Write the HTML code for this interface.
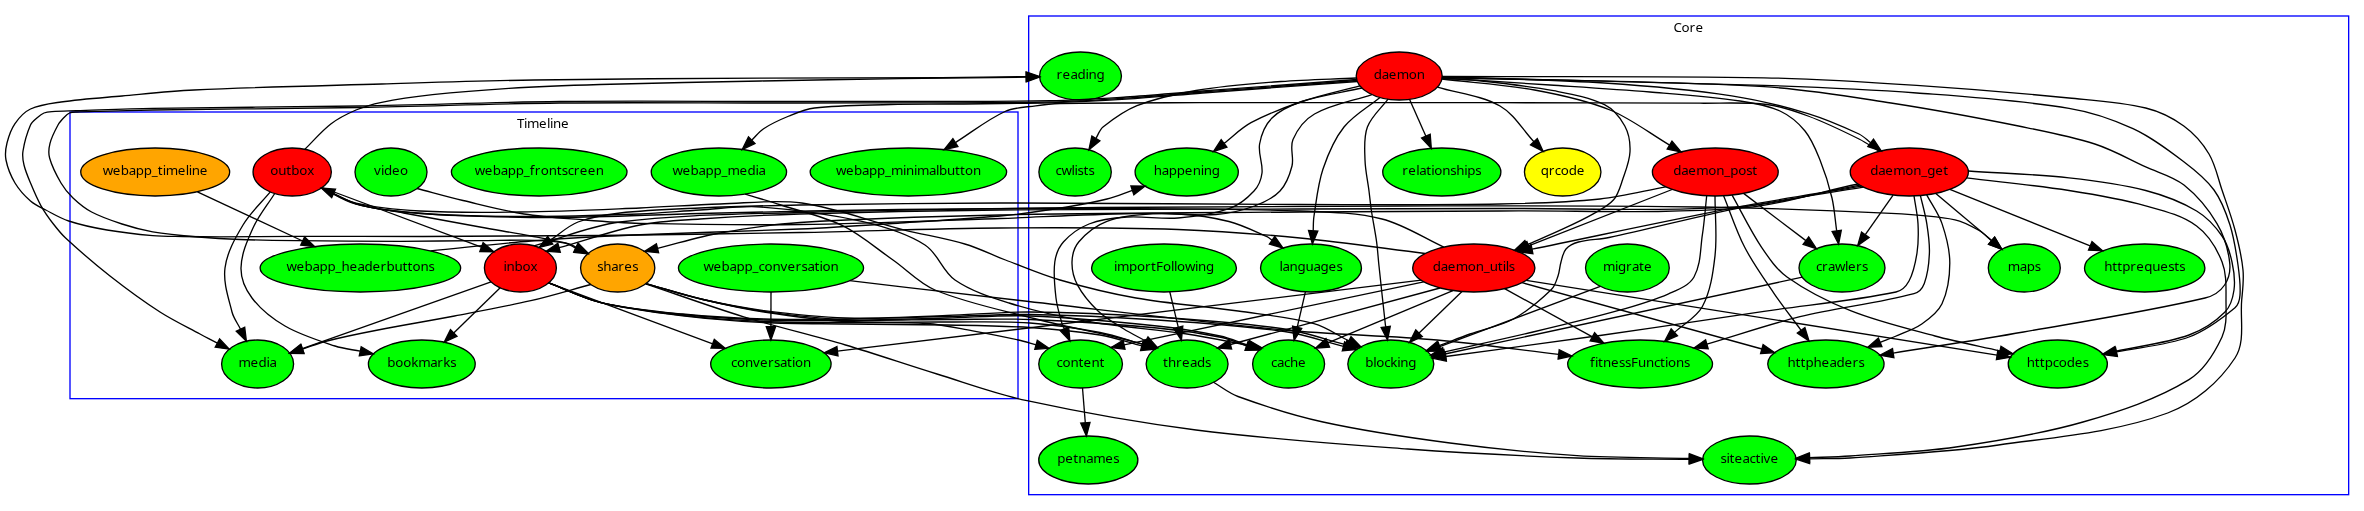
<!DOCTYPE html>
<html><head><meta charset="utf-8"><title>EpicyonGroups</title>
<style>
html,body{margin:0;padding:0;background:#fff}
svg{display:block;will-change:transform}
.e{fill:none;stroke:#000;stroke-width:1.33}
.a{fill:#000;stroke:#000;stroke-width:1.33;stroke-linejoin:miter}
ellipse{stroke:#000;stroke-width:1.33}
rect.c{fill:none;stroke:#0000ff;stroke-width:1.33}
text{font-family:"Noto Sans","Liberation Sans",sans-serif;font-size:13.33px;fill:#000}
</style></head>
<body>
<svg width="2364" height="511" viewBox="0 0 2364 511">
<rect width="2364" height="511" fill="#fff"/>
<rect class="c" x="70.00" y="112.00" width="948.00" height="286.67"/>
<text x="517.0 524.0 527.0 539.0 547.0 550.0 553.0 561.0" y="127.7">Timeline</text>
<rect class="c" x="1028.67" y="16.00" width="1320.00" height="478.67"/>
<text x="1673.4 1681.4 1689.4 1695.4" y="31.7">Core</text>
<g>
<ellipse cx="1080.5" cy="76.0" rx="40.96" ry="24" fill="#00ff00"/>
<ellipse cx="1399.2" cy="76.0" rx="43.00" ry="24" fill="#ff0000"/>
<ellipse cx="155.2" cy="172.0" rx="74.47" ry="24" fill="#ffa500"/>
<ellipse cx="292.2" cy="172.0" rx="39.16" ry="24" fill="#ff0000"/>
<ellipse cx="391.0" cy="172.0" rx="36.00" ry="24" fill="#00ff00"/>
<ellipse cx="539.2" cy="172.0" rx="87.81" ry="24" fill="#00ff00"/>
<ellipse cx="718.9" cy="172.0" rx="67.67" ry="24" fill="#00ff00"/>
<ellipse cx="908.4" cy="172.0" rx="98.23" ry="24" fill="#00ff00"/>
<ellipse cx="1075.1" cy="172.0" rx="36.21" ry="24" fill="#00ff00"/>
<ellipse cx="1186.7" cy="172.0" rx="51.60" ry="24" fill="#00ff00"/>
<ellipse cx="1441.8" cy="172.0" rx="59.07" ry="24" fill="#00ff00"/>
<ellipse cx="1562.7" cy="172.0" rx="38.25" ry="24" fill="#ffff00"/>
<ellipse cx="1715.3" cy="172.0" rx="62.92" ry="24" fill="#ff0000"/>
<ellipse cx="1909.3" cy="172.0" rx="59.07" ry="24" fill="#ff0000"/>
<ellipse cx="360.4" cy="268.0" rx="100.27" ry="24" fill="#00ff00"/>
<ellipse cx="520.4" cy="268.0" rx="36.00" ry="24" fill="#ff0000"/>
<ellipse cx="617.7" cy="268.0" rx="37.12" ry="24" fill="#ffa500"/>
<ellipse cx="771.0" cy="268.0" rx="92.56" ry="24" fill="#00ff00"/>
<ellipse cx="1164.0" cy="268.0" rx="72.41" ry="24" fill="#00ff00"/>
<ellipse cx="1311.0" cy="268.0" rx="50.47" ry="24" fill="#00ff00"/>
<ellipse cx="1473.8" cy="268.0" rx="61.11" ry="24" fill="#ff0000"/>
<ellipse cx="1627.4" cy="268.0" rx="41.87" ry="24" fill="#00ff00"/>
<ellipse cx="1842.0" cy="268.0" rx="43.00" ry="24" fill="#00ff00"/>
<ellipse cx="2024.3" cy="268.0" rx="36.00" ry="24" fill="#00ff00"/>
<ellipse cx="2144.7" cy="268.0" rx="60.20" ry="24" fill="#00ff00"/>
<ellipse cx="257.6" cy="364.0" rx="36.00" ry="24" fill="#00ff00"/>
<ellipse cx="421.8" cy="364.0" rx="53.41" ry="24" fill="#00ff00"/>
<ellipse cx="770.9" cy="364.0" rx="60.20" ry="24" fill="#00ff00"/>
<ellipse cx="1080.6" cy="364.0" rx="41.87" ry="24" fill="#00ff00"/>
<ellipse cx="1187.1" cy="364.0" rx="40.96" ry="24" fill="#00ff00"/>
<ellipse cx="1288.6" cy="364.0" rx="36.00" ry="24" fill="#00ff00"/>
<ellipse cx="1390.8" cy="364.0" rx="43.00" ry="24" fill="#00ff00"/>
<ellipse cx="1640.1" cy="364.0" rx="72.41" ry="24" fill="#00ff00"/>
<ellipse cx="1825.9" cy="364.0" rx="58.16" ry="24" fill="#00ff00"/>
<ellipse cx="2057.8" cy="364.0" rx="49.56" ry="24" fill="#00ff00"/>
<ellipse cx="1088.3" cy="460.0" rx="49.56" ry="24" fill="#00ff00"/>
<ellipse cx="1749.4" cy="460.0" rx="46.85" ry="24" fill="#00ff00"/>
</g>
<g class="t">
<text x="1056.5 1062.5 1070.5 1077.5 1085.5 1088.5 1096.5" y="79.0">reading</text>
<text x="1373.7 1381.7 1388.7 1396.7 1408.7 1416.7" y="79.0">daemon</text>
<text x="102.7 112.7 120.7 128.7 135.7 143.7 151.7 157.7 162.7 165.7 177.7 185.7 188.7 191.7 199.7" y="175.0">webapp_timeline</text>
<text x="270.2 278.2 286.2 291.2 299.2 307.2" y="175.0">outbox</text>
<text x="374.0 381.0 384.0 392.0 400.0" y="175.0">video</text>
<text x="474.7 484.7 492.7 500.7 507.7 515.7 523.7 529.7 534.7 540.7 548.7 556.7 561.7 567.7 573.7 579.7 587.7 595.7" y="175.0">webapp_frontscreen</text>
<text x="672.4 682.4 690.4 698.4 705.4 713.4 721.4 727.4 739.4 747.4 755.4 758.4" y="175.0">webapp_media</text>
<text x="835.9 845.9 853.9 861.9 868.9 876.9 884.9 890.9 902.9 905.9 913.9 916.9 928.9 935.9 938.9 946.9 954.9 959.9 964.9 972.9" y="175.0">webapp_minimalbutton</text>
<text x="1055.6 1061.6 1071.6 1074.6 1077.6 1083.6 1088.6" y="175.0">cwlists</text>
<text x="1153.7 1161.7 1168.7 1176.7 1184.7 1192.7 1200.7 1203.7 1211.7" y="175.0">happening</text>
<text x="1402.3 1408.3 1416.3 1419.3 1426.3 1431.3 1434.3 1442.3 1450.3 1456.3 1464.3 1467.3 1475.3" y="175.0">relationships</text>
<text x="1540.7 1548.7 1554.7 1560.7 1568.7 1576.7" y="175.0">qrcode</text>
<text x="1673.3 1681.3 1688.3 1696.3 1708.3 1716.3 1724.3 1730.3 1738.3 1746.3 1752.3" y="175.0">daemon_post</text>
<text x="1870.3 1878.3 1885.3 1893.3 1905.3 1913.3 1921.3 1927.3 1935.3 1943.3" y="175.0">daemon_get</text>
<text x="286.4 296.4 304.4 312.4 319.4 327.4 335.4 341.4 349.4 357.4 364.4 372.4 380.4 386.4 394.4 402.4 407.4 412.4 420.4 428.4" y="271.0">webapp_headerbuttons</text>
<text x="503.4 506.4 514.4 522.4 530.4" y="271.0">inbox</text>
<text x="597.2 603.2 611.2 618.2 624.2 632.2" y="271.0">shares</text>
<text x="703.5 713.5 721.5 729.5 736.5 744.5 752.5 758.5 764.5 772.5 780.5 787.5 795.5 801.5 807.5 814.5 819.5 822.5 830.5" y="271.0">webapp_conversation</text>
<text x="1114.0 1117.0 1129.0 1137.0 1145.0 1151.0 1156.0 1163.0 1171.0 1174.0 1177.0 1185.0 1195.0 1198.0 1206.0" y="271.0">importFollowing</text>
<text x="1279.5 1282.5 1289.5 1297.5 1305.5 1313.5 1320.5 1328.5 1336.5" y="271.0">languages</text>
<text x="1432.8 1440.8 1447.8 1455.8 1467.8 1475.8 1483.8 1489.8 1497.8 1502.8 1505.8 1508.8" y="271.0">daemon_utils</text>
<text x="1602.9 1614.9 1617.9 1625.9 1631.9 1638.9 1643.9" y="271.0">migrate</text>
<text x="1816.0 1822.0 1828.0 1835.0 1845.0 1848.0 1856.0 1862.0" y="271.0">crawlers</text>
<text x="2007.8 2019.8 2026.8 2034.8" y="271.0">maps</text>
<text x="2104.2 2112.2 2117.2 2122.2 2130.2 2136.2 2144.2 2152.2 2160.2 2168.2 2174.2 2179.2" y="271.0">httprequests</text>
<text x="238.6 250.6 258.6 266.6 269.6" y="367.0">media</text>
<text x="387.3 395.3 403.3 411.3 418.3 430.3 437.3 443.3 450.3" y="367.0">bookmarks</text>
<text x="730.9 736.9 744.9 752.9 759.9 767.9 773.9 779.9 786.9 791.9 794.9 802.9" y="367.0">conversation</text>
<text x="1056.6 1062.6 1070.6 1078.6 1083.6 1091.6 1099.6" y="367.0">content</text>
<text x="1163.1 1168.1 1176.1 1182.1 1190.1 1197.1 1205.1" y="367.0">threads</text>
<text x="1271.1 1277.1 1284.1 1290.1 1298.1" y="367.0">cache</text>
<text x="1365.3 1373.3 1376.3 1384.3 1390.3 1397.3 1400.3 1408.3" y="367.0">blocking</text>
<text x="1590.1 1595.1 1598.1 1603.1 1611.1 1619.1 1625.1 1631.1 1638.1 1646.1 1654.1 1660.1 1665.1 1668.1 1676.1 1684.1" y="367.0">fitnessFunctions</text>
<text x="1787.4 1795.4 1800.4 1805.4 1813.4 1821.4 1829.4 1836.4 1844.4 1852.4 1858.4" y="367.0">httpheaders</text>
<text x="2026.8 2034.8 2039.8 2044.8 2052.8 2058.8 2066.8 2074.8 2082.8" y="367.0">httpcodes</text>
<text x="1057.3 1065.3 1073.3 1078.3 1086.3 1093.3 1105.3 1113.3" y="463.0">petnames</text>
<text x="1720.4 1726.4 1729.4 1734.4 1742.4 1749.4 1755.4 1760.4 1763.4 1770.4" y="463.0">siteactive</text>
</g>
<g>
<path class="e" d="M197.4,191.8 L302.7,241.0"/>
<path class="a" d="M300.7,245.2 L314.7,246.6 L304.6,236.8 Z"/>
<path class="e" d="M322.1,187.5 L481.4,247.1"/>
<path class="a" d="M479.8,251.5 L493.9,251.7 L483.1,242.7 Z"/>
<path class="e" d="M321.7,187.8C333.1,193.1 343.9,200.1 356.0,203.8C371.4,208.6 387.7,210.0 403.6,213.0C429.0,217.8 454.5,222.4 480.0,227.0C496.9,230.1 513.9,232.8 530.8,236.0C543.6,238.4 556.4,240.6 569.0,243.8C571.6,244.5 573.9,246.2 576.3,247.4"/>
<path class="a" d="M574.3,251.6 L588.3,253.4 L578.4,243.3 Z"/>
<path class="e" d="M270.3,191.9C261.2,202.9 250.3,212.7 243.0,225.0C235.0,238.3 226.9,252.6 225.0,268.0C223.1,282.7 228.4,297.6 232.0,312.0C233.6,318.2 237.7,323.5 240.5,329.2"/>
<path class="a" d="M236.3,331.3 L246.4,341.2 L244.7,327.2 Z"/>
<path class="e" d="M274.7,193.5C267.5,205.0 258.6,215.6 253.0,228.0C247.3,240.7 241.2,254.1 241.0,268.0C240.8,278.6 245.6,289.5 252.0,298.0C260.7,309.5 272.5,318.8 285.0,326.0C300.5,335.0 318.0,340.3 335.0,346.0C343.1,348.7 351.8,349.5 360.2,351.2"/>
<path class="a" d="M359.3,355.8 L373.3,353.9 L361.2,346.7 Z"/>
<path class="e" d="M491.1,281.9 L302.3,348.7"/>
<path class="a" d="M300.7,344.3 L289.7,353.1 L303.8,353.1 Z"/>
<path class="e" d="M590.8,284.5C570.8,289.9 551.0,296.0 530.8,300.7C505.5,306.5 480.0,311.1 454.5,316.0C429.0,320.9 403.4,325.0 378.0,330.0C360.9,333.3 343.9,336.7 327.0,341.0C318.7,343.1 310.7,346.4 302.5,349.1"/>
<path class="a" d="M301.0,344.7 L289.8,353.3 L304.0,353.6 Z"/>
<path class="e" d="M500.2,287.8 L453.7,332.9"/>
<path class="a" d="M450.5,329.6 L444.2,342.2 L457.0,336.3 Z"/>
<path class="e" d="M548.7,282.8 L712.7,343.8"/>
<path class="a" d="M711.0,348.1 L725.2,348.4 L714.3,339.4 Z"/>
<path class="e" d="M771.0,292.0 L770.9,326.7"/>
<path class="a" d="M766.3,326.7 L770.9,340.0 L775.6,326.7 Z"/>
<path class="e" d="M849.6,280.7C906.4,287.3 963.2,294.0 1020.0,300.5C1108.0,310.5 1195.8,321.6 1284.0,330.0C1334.9,334.8 1386.1,335.5 1437.0,340.0C1477.7,343.6 1518.1,349.6 1558.7,354.4"/>
<path class="a" d="M1558.1,359.0 L1571.9,355.9 L1559.2,349.7 Z"/>
<path class="e" d="M645.6,283.8C678.3,294.8 710.7,306.7 743.7,316.8C777.4,327.1 811.7,335.0 845.5,345.0C876.2,354.1 906.4,364.6 937.0,374.0C966.9,383.2 996.4,394.1 1027.0,400.7C1082.9,412.8 1139.3,422.8 1196.0,430.0C1266.3,438.9 1337.0,443.8 1407.6,449.0C1464.0,453.1 1520.5,455.9 1577.0,458.0C1614.4,459.4 1651.8,458.9 1689.2,459.3"/>
<path class="a" d="M1689.2,464.0 L1702.6,459.5 L1689.3,454.6 Z"/>
<path class="e" d="M1213.5,382.3C1221.7,387.1 1229.1,393.3 1238.0,396.5C1265.8,406.6 1294.1,415.7 1323.0,422.0C1364.9,431.2 1407.5,437.4 1450.0,443.0C1492.2,448.6 1534.5,452.9 1577.0,455.7C1614.4,458.1 1651.8,457.6 1689.3,458.5"/>
<path class="a" d="M1689.2,463.2 L1702.6,458.8 L1689.4,453.8 Z"/>
<path class="e" d="M1082.5,388.0 L1085.3,422.7"/>
<path class="a" d="M1080.7,423.1 L1086.4,436.0 L1090.0,422.4 Z"/>
<path class="e" d="M430.5,250.8C464.0,247.6 497.5,243.6 531.0,241.0C565.0,238.3 599.0,236.5 633.0,235.0C688.6,232.5 744.4,231.5 800.0,229.0C833.4,227.5 866.7,225.2 900.0,223.0C935.0,220.7 970.1,218.8 1005.0,215.5C1025.8,213.5 1046.4,210.3 1067.0,207.0C1080.4,204.8 1093.8,202.3 1107.0,199.0C1115.7,196.8 1123.9,193.3 1132.4,190.4"/>
<path class="a" d="M1133.9,194.8 L1145.0,186.1 L1130.9,186.0 Z"/>
<path class="e" d="M1443.8,247.1C1423.2,237.7 1404.0,224.5 1382.0,219.0C1355.4,212.3 1327.4,212.0 1300.0,211.0C1233.4,208.5 1166.7,208.8 1100.0,208.5C1033.3,208.2 966.7,208.7 900.0,209.5C833.3,210.3 766.7,211.9 700.0,213.5C653.3,214.6 606.7,217.2 560.0,217.5C523.3,217.7 486.6,216.6 450.0,215.0C429.0,214.1 407.9,212.5 387.0,210.0C376.5,208.7 366.1,206.7 356.0,203.6C348.2,201.2 341.1,196.8 333.6,193.5"/>
<path class="a" d="M335.5,189.2 L321.4,188.0 L331.7,197.7 Z"/>
<path class="e" d="M417.1,188.5C432.4,192.5 447.6,196.8 463.0,200.5C483.3,205.3 503.4,210.7 524.0,214.0C544.2,217.2 564.6,218.3 585.0,220.0C603.3,221.5 621.6,223.0 640.0,223.4C693.3,224.5 746.7,225.2 800.0,224.5C866.7,223.6 933.3,220.7 1000.0,218.5C1033.3,217.4 1066.7,215.3 1100.0,214.5C1126.0,213.8 1152.0,212.6 1178.0,214.0C1195.2,214.9 1212.4,217.3 1229.0,221.5C1242.2,224.9 1254.5,231.2 1267.0,236.7C1268.9,237.5 1270.4,239.1 1272.1,240.3"/>
<path class="a" d="M1269.4,244.1 L1283.0,248.0 L1274.8,236.5 Z"/>
<path class="e" d="M534.0,245.8C562.7,237.9 590.5,225.7 620.0,222.0C679.6,214.5 739.9,214.3 800.0,212.5C900.0,209.5 1000.0,208.6 1100.0,207.5C1200.0,206.4 1300.0,206.1 1400.0,206.0C1500.0,205.9 1600.0,205.5 1700.0,207.0C1763.7,208.0 1827.4,210.2 1891.0,213.4C1912.4,214.5 1934.0,215.6 1955.0,219.8C1964.0,221.6 1972.1,226.5 1980.0,231.0C1984.4,233.5 1987.7,237.5 1991.6,240.7"/>
<path class="a" d="M1988.6,244.3 L2001.8,249.2 L1994.6,237.1 Z"/>
<path class="e" d="M745.1,194.1C757.1,197.7 769.1,201.1 781.0,205.0C801.6,211.7 823.2,216.2 842.6,225.7C860.8,234.7 876.3,248.4 893.0,260.0C907.1,269.8 919.1,283.4 935.0,290.0C966.7,303.2 1000.8,309.8 1034.0,318.5C1059.5,325.2 1085.4,330.0 1111.0,336.0C1122.1,338.6 1133.2,341.6 1144.3,344.4"/>
<path class="a" d="M1143.1,348.9 L1157.2,347.6 L1145.4,339.8 Z"/>
<path class="e" d="M321.7,187.8C333.1,193.3 343.7,201.0 356.0,204.2C376.9,209.6 398.5,211.9 420.0,213.5C453.3,216.0 486.7,216.4 520.0,216.5C560.0,216.6 600.0,215.4 640.0,214.0C660.0,213.3 680.0,211.2 700.0,210.0C720.3,208.8 740.7,205.5 761.0,207.0C795.3,209.5 829.5,213.9 863.0,221.7C884.5,226.7 906.4,233.2 925.0,245.0C938.0,253.2 942.4,271.3 955.0,280.0C971.1,291.1 990.3,297.1 1009.0,303.0C1033.8,310.8 1059.4,316.5 1085.0,321.0C1118.8,326.9 1153.1,329.0 1187.0,334.0C1207.8,337.1 1228.3,341.6 1248.9,345.4"/>
<path class="a" d="M1248.1,350.0 L1262.0,347.8 L1249.7,340.8 Z"/>
<path class="e" d="M321.4,188.0C332.9,193.1 343.7,200.3 356.0,203.2C376.9,208.1 398.5,209.8 420.0,211.0C453.3,212.8 486.7,212.5 520.0,212.0C560.0,211.5 600.0,209.6 640.0,208.0C666.7,206.9 693.3,204.8 720.0,204.0C747.3,203.2 774.8,199.2 801.8,203.0C836.6,207.9 869.6,221.2 903.7,229.8C924.0,234.9 944.8,238.1 964.8,244.0C978.8,248.1 991.9,254.8 1005.5,260.0C1023.6,266.8 1041.4,274.6 1060.0,280.0C1085.0,287.3 1110.4,293.5 1136.0,298.0C1169.8,303.9 1204.1,306.1 1238.0,311.0C1263.4,314.7 1289.2,316.9 1314.0,323.6C1326.5,327.0 1337.3,335.1 1348.9,340.9"/>
<path class="a" d="M1346.8,345.0 L1360.9,346.8 L1351.0,336.7 Z"/>
<path class="e" d="M548.7,282.8C566.1,289.4 582.9,298.2 601.0,302.6C627.8,309.1 655.3,312.1 682.6,315.3C709.6,318.4 736.8,320.3 764.0,321.5C791.1,322.7 818.3,322.2 845.5,322.5C872.7,322.8 899.9,321.7 927.0,323.5C942.4,324.5 957.5,328.1 972.7,330.8C988.0,333.6 1003.3,336.6 1018.5,340.0C1024.4,341.3 1030.2,343.2 1036.1,344.8"/>
<path class="a" d="M1034.8,349.3 L1048.9,348.3 L1037.3,340.3 Z"/>
<path class="e" d="M548.7,282.8C566.1,289.4 582.9,298.1 601.0,302.6C627.8,309.2 655.2,312.5 682.6,315.8C709.6,319.1 736.8,321.1 764.0,322.5C791.1,323.9 818.3,323.6 845.5,324.0C879.3,324.5 913.2,324.4 947.0,325.0C974.7,325.5 1002.4,325.7 1030.0,327.5C1053.4,329.0 1076.8,331.2 1100.0,335.0C1114.2,337.3 1127.9,342.3 1141.8,345.9"/>
<path class="a" d="M1140.6,350.5 L1154.7,349.3 L1143.0,341.4 Z"/>
<path class="e" d="M548.7,282.8C566.1,289.4 582.9,298.3 601.0,302.6C627.8,308.9 655.3,311.6 682.6,314.5C709.6,317.4 736.8,319.0 764.0,320.0C791.1,321.0 818.3,320.8 845.5,320.5C879.3,320.1 913.2,318.8 947.0,318.0C974.7,317.3 1002.3,314.9 1030.0,316.0C1072.4,317.6 1114.8,321.6 1157.0,326.0C1178.1,328.2 1199.2,331.6 1220.0,336.0C1229.5,338.0 1238.5,342.0 1247.7,345.0"/>
<path class="a" d="M1246.3,349.4 L1260.4,349.1 L1249.2,340.5 Z"/>
<path class="e" d="M548.7,282.8C566.1,289.4 582.8,298.4 601.0,302.6C627.7,308.8 655.3,311.3 682.6,314.0C709.6,316.7 736.8,318.2 764.0,319.0C791.2,319.8 818.3,319.5 845.5,319.0C879.3,318.4 913.2,316.8 947.0,315.5C974.7,314.5 1002.3,311.8 1030.0,312.0C1072.4,312.3 1114.7,314.2 1157.0,317.0C1199.6,319.8 1242.3,322.8 1284.5,329.0C1305.4,332.1 1325.3,339.5 1345.8,344.7"/>
<path class="a" d="M1344.6,349.2 L1358.7,348.0 L1346.9,340.2 Z"/>
<path class="e" d="M645.9,283.6C664.9,288.9 683.8,294.9 703.0,299.5C723.2,304.3 743.5,308.8 764.0,312.0C791.0,316.2 818.2,320.0 845.5,321.5C879.3,323.3 913.2,321.7 947.0,322.0C974.7,322.2 1002.4,321.1 1030.0,323.0C1053.5,324.6 1076.9,328.1 1100.0,332.5C1114.8,335.3 1129.0,340.6 1143.5,344.6"/>
<path class="a" d="M1142.2,349.1 L1156.3,348.2 L1144.7,340.1 Z"/>
<path class="e" d="M645.9,283.6C664.9,288.9 683.8,295.0 703.0,299.5C723.2,304.2 743.5,308.4 764.0,311.3C791.0,315.1 818.2,318.5 845.5,319.7C879.3,321.2 913.2,319.5 947.0,319.5C974.7,319.5 1002.4,318.4 1030.0,319.5C1072.4,321.2 1114.8,324.0 1157.0,328.0C1178.8,330.0 1200.5,333.2 1222.0,337.5C1230.5,339.2 1238.3,343.1 1246.5,345.9"/>
<path class="a" d="M1245.0,350.3 L1259.1,350.2 L1248.0,341.5 Z"/>
<path class="e" d="M645.9,283.6C664.9,288.9 683.7,295.1 703.0,299.5C723.1,304.1 743.5,307.9 764.0,310.6C791.1,314.1 818.2,317.1 845.5,318.0C879.3,319.1 913.2,317.1 947.0,316.5C974.7,316.0 1002.3,314.0 1030.0,314.5C1072.4,315.2 1114.7,317.2 1157.0,320.0C1199.6,322.8 1242.2,325.5 1284.5,331.5C1304.6,334.3 1323.8,341.4 1343.5,346.3"/>
<path class="a" d="M1342.3,350.9 L1356.4,349.6 L1344.6,341.8 Z"/>
<path class="e" d="M1356.4,78.0C1331.2,79.2 1306.1,79.6 1281.0,81.5C1252.6,83.7 1224.1,85.8 1196.0,90.5C1176.0,93.9 1155.9,98.3 1137.0,105.7C1124.6,110.6 1113.5,118.7 1103.0,127.0C1099.5,129.8 1098.3,134.6 1095.9,138.5"/>
<path class="a" d="M1091.9,136.0 L1088.9,149.8 L1099.9,140.9 Z"/>
<path class="e" d="M1359.9,85.8C1340.6,91.0 1320.9,95.1 1302.0,101.5C1284.6,107.4 1267.2,114.0 1251.0,122.7C1241.0,128.1 1233.0,136.5 1224.0,143.4"/>
<path class="a" d="M1221.2,139.7 L1213.5,151.5 L1226.9,147.1 Z"/>
<path class="e" d="M1409.5,99.3 L1425.9,136.2"/>
<path class="a" d="M1421.6,138.1 L1431.3,148.4 L1430.2,134.3 Z"/>
<path class="e" d="M1437.3,87.1C1458.2,93.4 1481.0,95.3 1500.0,106.0C1514.3,114.1 1522.6,129.8 1533.9,141.7"/>
<path class="a" d="M1530.5,144.9 L1543.1,151.4 L1537.3,138.5 Z"/>
<path class="e" d="M1441.9,79.0C1472.7,82.7 1503.9,84.4 1534.5,90.0C1560.1,94.7 1585.9,100.2 1610.0,110.0C1631.3,118.7 1649.7,133.4 1669.6,145.1"/>
<path class="a" d="M1667.2,149.1 L1681.1,151.9 L1672.0,141.1 Z"/>
<path class="e" d="M1442.2,77.0C1496.3,79.0 1550.5,79.5 1604.5,83.0C1647.0,85.8 1689.6,89.5 1731.7,95.8C1757.5,99.7 1783.0,106.1 1808.0,113.6C1825.5,118.9 1842.4,126.3 1859.0,134.0C1863.4,136.1 1866.8,139.9 1870.7,142.8"/>
<path class="a" d="M1867.9,146.5 L1881.3,150.9 L1873.5,139.1 Z"/>
<path class="e" d="M1362.0,88.0C1342.0,92.5 1321.4,95.0 1302.0,101.5C1291.2,105.1 1280.1,109.9 1272.0,118.0C1265.2,124.8 1261.3,134.6 1259.6,144.0C1257.9,153.5 1263.1,163.4 1262.0,173.0C1261.2,179.5 1258.5,186.2 1254.0,191.0C1247.1,198.5 1238.6,205.3 1229.0,208.7C1212.7,214.5 1195.2,216.6 1178.0,218.0C1161.1,219.4 1144.0,215.9 1127.0,217.0C1114.1,217.9 1101.0,219.3 1089.0,224.0C1079.4,227.8 1070.5,234.1 1063.6,241.8C1058.7,247.3 1055.8,254.7 1054.8,262.0C1053.2,273.9 1054.6,286.1 1056.0,298.0C1057.0,306.7 1059.7,315.1 1062.0,323.6C1062.5,325.4 1063.6,327.0 1064.3,328.7"/>
<path class="a" d="M1060.1,330.6 L1069.9,340.8 L1068.6,326.7 Z"/>
<path class="e" d="M1371.9,94.6C1352.8,101.0 1332.1,104.0 1314.5,114.0C1304.8,119.5 1297.4,129.4 1293.0,139.6C1289.5,147.7 1294.2,157.5 1292.0,166.0C1289.7,175.0 1286.3,184.3 1280.0,191.0C1273.3,198.2 1263.8,202.6 1254.5,206.0C1242.2,210.5 1229.1,213.5 1216.0,214.5C1195.0,216.1 1173.8,212.5 1152.7,213.8C1137.3,214.8 1121.4,215.9 1106.9,221.4C1096.1,225.5 1086.4,233.0 1078.9,241.8C1074.3,247.2 1072.2,254.9 1072.0,262.0C1071.8,270.0 1073.9,278.3 1077.7,285.4C1082.8,295.0 1090.1,303.4 1098.0,310.9C1105.5,318.0 1114.7,323.2 1123.5,328.7C1130.7,333.2 1138.3,336.9 1145.7,341.0"/>
<path class="a" d="M1143.4,345.1 L1157.4,347.5 L1148.0,336.9 Z"/>
<path class="e" d="M1380.0,97.5C1368.0,107.3 1353.7,114.9 1344.0,127.0C1334.2,139.2 1328.0,154.2 1323.0,169.0C1317.9,184.1 1316.5,200.2 1314.0,216.0C1313.2,220.8 1313.4,225.8 1313.2,230.7"/>
<path class="a" d="M1308.5,230.4 L1312.4,244.0 L1317.8,231.0 Z"/>
<path class="e" d="M1388.0,99.2C1381.1,108.4 1371.5,116.2 1367.4,127.0C1363.5,137.3 1364.7,149.0 1365.0,160.0C1365.3,170.4 1367.7,180.7 1369.0,191.0C1369.8,197.3 1370.4,203.7 1371.3,210.0C1372.9,220.6 1375.1,231.2 1376.6,241.8C1377.7,249.8 1378.1,257.9 1379.0,266.0C1381.0,285.3 1383.2,304.7 1385.3,324.0C1385.4,325.0 1385.6,325.9 1385.7,326.9"/>
<path class="a" d="M1381.1,327.5 L1387.5,340.1 L1390.3,326.2 Z"/>
<path class="e" d="M1442.0,78.5C1453.6,79.2 1465.4,79.2 1477.0,80.5C1502.6,83.3 1528.3,85.9 1553.6,90.7C1570.9,94.0 1588.7,96.9 1604.5,104.7C1613.3,109.1 1620.1,117.4 1624.8,126.0C1629.0,133.7 1630.4,143.0 1630.0,151.8C1629.6,161.5 1625.6,170.8 1622.5,180.0C1620.2,186.8 1618.3,194.3 1613.6,199.8C1608.3,205.9 1600.7,209.6 1593.7,213.6C1583.8,219.3 1573.4,224.1 1563.0,228.9C1551.1,234.5 1538.9,239.5 1526.8,244.8"/>
<path class="a" d="M1524.9,240.5 L1514.6,250.1 L1528.7,249.0 Z"/>
<path class="e" d="M1442.1,78.0C1478.0,80.3 1514.0,82.6 1550.0,85.0C1583.3,87.2 1616.7,89.2 1650.0,92.0C1680.0,94.5 1710.2,96.6 1740.0,101.0C1753.6,103.0 1767.5,105.2 1780.0,111.0C1789.7,115.5 1798.3,122.7 1805.0,131.0C1811.9,139.4 1815.9,149.9 1820.0,160.0C1825.0,172.3 1829.0,185.1 1832.0,198.0C1834.5,208.8 1835.1,219.9 1836.7,230.9"/>
<path class="a" d="M1832.1,231.5 L1838.6,244.1 L1841.3,230.2 Z"/>
<path class="e" d="M1442.2,76.5C1549.5,76.9 1656.7,75.8 1764.0,77.8C1815.0,78.8 1865.8,82.0 1916.7,85.4C1967.5,88.8 2018.3,93.0 2069.0,98.0C2094.7,100.5 2120.7,101.9 2145.7,108.0C2159.3,111.3 2172.4,117.7 2183.8,126.0C2194.0,133.4 2202.6,143.2 2209.0,154.0C2215.5,165.0 2217.9,177.9 2222.0,190.0C2226.5,203.3 2231.4,216.4 2235.0,230.0C2238.5,243.2 2241.7,256.5 2243.0,270.0C2244.0,280.0 2242.6,290.0 2241.7,300.0C2239.9,319.4 2245.7,341.7 2235.0,358.0C2219.1,382.2 2194.9,403.0 2167.7,413.0C2113.8,432.8 2055.3,437.0 1998.5,445.0C1949.3,452.0 1899.6,454.4 1850.0,458.0C1836.5,459.0 1823.0,458.5 1809.5,458.8"/>
<path class="a" d="M1809.5,454.1 L1796.2,459.1 L1809.6,463.5 Z"/>
<path class="e" d="M1442.2,77.0C1549.4,79.8 1656.7,81.8 1764.0,85.4C1814.9,87.1 1865.9,89.2 1916.7,93.0C1967.6,96.8 2018.7,100.0 2069.0,108.3C2091.1,111.9 2112.7,119.2 2133.0,128.7C2151.3,137.2 2167.7,149.6 2183.8,161.8C2194.8,170.1 2205.9,178.9 2214.0,190.0C2221.6,200.4 2226.1,212.8 2230.0,225.0C2234.1,238.0 2236.1,251.5 2238.0,265.0C2239.4,274.9 2240.7,285.0 2240.0,295.0C2239.7,299.5 2238.5,304.8 2235.0,307.7C2221.0,319.3 2206.0,330.6 2189.0,337.0C2165.9,345.6 2140.6,347.0 2116.5,351.9"/>
<path class="a" d="M2115.5,347.4 L2103.4,354.6 L2117.4,356.5 Z"/>
<path class="e" d="M1442.1,77.5C1549.4,80.6 1656.8,80.6 1764.0,86.7C1806.6,89.1 1848.8,96.5 1891.0,103.0C1933.7,109.6 1976.2,117.5 2018.5,126.0C2044.1,131.2 2069.9,136.0 2094.8,144.0C2112.5,149.7 2128.8,159.1 2145.7,166.9C2158.5,172.8 2172.9,176.2 2184.0,185.0C2197.2,195.5 2208.4,209.0 2217.0,223.6C2223.8,235.1 2228.0,248.5 2229.6,261.8C2230.6,269.7 2229.0,278.5 2224.6,285.0C2220.2,291.5 2212.6,296.2 2205.0,298.0C2145.1,312.0 2084.1,321.3 2023.5,332.0C1980.2,339.7 1936.6,346.1 1893.2,353.1"/>
<path class="a" d="M1892.5,348.5 L1880.0,355.2 L1893.9,357.7 Z"/>
<path class="e" d="M1356.7,79.5C1305.3,83.4 1254.0,87.1 1202.7,91.0C1177.1,92.9 1151.6,95.4 1126.0,97.0C1100.7,98.6 1075.4,100.3 1050.0,100.7C966.7,101.9 883.3,101.4 800.0,101.5C720.0,101.6 640.0,100.7 560.0,101.5C493.3,102.2 426.7,104.9 360.0,106.0C290.9,107.2 221.8,107.2 152.7,108.3C127.1,108.7 101.6,109.8 76.0,110.6C68.0,110.9 60.0,111.0 52.0,111.6C49.3,111.8 46.5,112.0 44.0,113.0C41.6,114.0 39.5,115.7 37.5,117.5C34.9,119.8 31.9,121.9 30.5,125.0C26.9,133.3 24.4,142.1 23.0,151.0C22.2,155.6 22.9,160.4 24.0,165.0C25.5,171.2 28.0,177.1 30.5,183.0C33.7,190.7 36.9,198.5 41.0,205.8C44.6,212.2 48.9,218.2 53.4,224.0C57.2,228.9 61.0,233.8 65.6,238.0C79.9,251.2 94.7,264.0 110.0,276.0C126.2,288.7 142.7,300.9 160.0,312.0C172.8,320.2 186.6,326.8 200.0,334.0C205.8,337.1 211.6,340.0 217.4,343.1"/>
<path class="a" d="M215.2,347.2 L229.2,349.2 L219.6,338.9 Z"/>
<path class="e" d="M1357.0,80.5C1305.5,84.3 1254.1,88.1 1202.7,92.0C1177.1,94.0 1151.6,96.5 1126.0,98.2C1100.7,99.9 1075.4,101.6 1050.0,102.0C966.7,103.2 883.3,102.8 800.0,103.0C720.0,103.2 640.0,102.2 560.0,103.0C493.3,103.7 426.7,106.4 360.0,107.5C290.9,108.7 221.8,109.0 152.7,110.0C135.1,110.3 117.6,110.8 100.0,111.3C92.3,111.5 84.7,111.6 77.0,112.0C74.5,112.1 71.8,112.0 69.5,113.0C67.3,113.9 65.6,115.8 64.0,117.5C61.8,119.8 59.5,122.2 58.0,125.0C54.8,130.9 51.6,136.9 50.0,143.4C48.8,148.1 48.3,153.3 49.6,158.0C52.1,166.8 56.4,175.1 61.0,183.0C64.2,188.5 68.4,193.6 73.0,198.0C78.6,203.3 84.7,208.4 91.6,212.0C101.2,217.1 111.6,220.6 122.0,224.0C132.0,227.3 142.3,230.0 152.7,231.8C167.8,234.4 183.2,235.7 198.5,237.0C212.3,238.2 226.2,239.0 240.0,239.5C258.7,240.2 277.3,240.4 296.0,240.6C330.7,241.0 365.3,241.3 400.0,241.3C426.7,241.3 453.3,240.8 480.0,240.6C498.3,240.5 516.7,239.8 535.0,240.3C545.0,240.6 555.1,241.1 565.0,243.0C568.9,243.7 572.2,246.4 575.7,248.1"/>
<path class="a" d="M573.7,252.3 L587.8,253.8 L577.7,243.9 Z"/>
<path class="e" d="M1425.1,253.5C1383.4,248.3 1341.8,242.1 1300.0,238.0C1259.4,234.1 1218.7,230.9 1178.0,229.5C1118.7,227.5 1059.3,227.5 1000.0,228.0C933.3,228.5 866.7,231.2 800.0,232.5C733.3,233.7 666.7,234.8 600.0,235.5C541.0,236.1 482.0,236.3 423.0,236.5C380.7,236.6 338.3,236.2 296.0,236.3C270.7,236.3 245.3,236.8 220.0,236.8C207.7,236.8 195.3,236.7 183.0,236.5C172.9,236.3 162.8,236.5 152.7,235.6C137.4,234.3 122.1,232.6 107.0,230.0C94.1,227.8 81.2,225.1 68.7,221.0C60.7,218.4 53.3,213.9 45.8,210.0C40.6,207.3 34.9,204.9 30.5,201.0C24.5,195.8 19.1,189.8 15.0,183.0C10.8,175.9 7.6,168.1 6.0,160.0C4.9,154.4 5.6,148.5 7.0,143.0C8.7,136.2 11.0,129.4 15.0,123.6C19.0,117.8 24.1,112.0 30.5,109.0C39.9,104.6 50.7,103.5 61.0,102.0C81.2,99.1 101.7,97.8 122.0,96.0C146.0,93.8 169.9,91.1 194.0,90.0C256.5,87.1 319.1,85.8 381.7,84.0C432.5,82.5 483.2,80.8 534.0,80.0C609.7,78.8 685.3,78.6 761.0,78.2C821.2,77.8 881.5,78.0 941.7,77.6C969.9,77.4 998.0,77.0 1026.2,76.6"/>
<path class="a" d="M1026.3,81.3 L1039.5,76.5 L1026.2,72.0 Z"/>
<path class="e" d="M304.9,149.3C313.5,140.9 321.2,131.4 330.8,124.0C338.4,118.1 347.2,113.8 356.0,110.0C364.2,106.5 372.9,104.1 381.7,102.3C398.5,98.9 415.5,96.6 432.6,94.7C458.0,91.9 483.4,89.9 508.9,88.3C539.2,86.5 569.6,85.4 600.0,84.5C653.7,82.9 707.3,82.1 761.0,81.0C807.3,80.1 853.7,79.3 900.0,78.6C942.1,78.0 984.2,77.6 1026.2,77.2"/>
<path class="a" d="M1026.3,81.8 L1039.6,77.0 L1026.2,72.5 Z"/>
<path class="e" d="M1357.3,81.5C1305.8,85.3 1254.2,89.0 1202.7,93.0C1177.1,95.0 1151.6,97.6 1126.0,99.2C1100.7,100.8 1075.4,102.1 1050.0,102.8C1016.7,103.7 983.3,103.6 950.0,104.0C930.3,104.2 910.5,103.9 890.8,104.5C865.4,105.3 839.8,105.1 814.5,108.0C805.6,109.0 797.3,112.6 789.0,116.0C780.2,119.6 771.5,123.5 763.6,128.7C759.0,131.7 755.7,136.4 751.7,140.2"/>
<path class="a" d="M748.5,136.8 L742.2,149.5 L755.0,143.5 Z"/>
<path class="e" d="M1879.4,151.3C1872.6,147.2 1866.1,142.5 1859.0,139.0C1842.3,130.7 1825.5,122.5 1808.0,116.0C1794.7,111.0 1781.1,106.2 1767.0,104.5C1744.8,101.9 1722.3,103.4 1700.0,103.2C1633.3,102.8 1566.7,102.8 1500.0,102.7C1400.0,102.6 1300.0,102.5 1200.0,102.7C1153.3,102.8 1106.7,102.6 1060.0,103.5C1051.9,103.7 1043.8,104.6 1035.8,105.8C1025.5,107.3 1014.5,107.2 1005.0,111.5C987.3,119.6 971.9,132.2 955.4,142.6"/>
<path class="a" d="M952.9,138.6 L944.1,149.6 L957.9,146.5 Z"/>
<path class="e" d="M1665.7,186.8C1643.8,190.9 1622.2,196.7 1600.0,199.0C1566.8,202.4 1533.4,203.4 1500.0,204.0C1433.3,205.2 1366.7,204.6 1300.0,204.5C1200.0,204.3 1100.0,202.9 1000.0,203.0C933.3,203.1 866.7,203.9 800.0,205.0C766.7,205.6 733.3,206.5 700.0,208.0C673.3,209.2 646.5,210.0 620.0,213.0C605.8,214.6 591.3,216.8 578.0,222.0C567.7,226.0 559.5,234.1 550.2,240.2"/>
<path class="a" d="M547.7,236.3 L539.1,247.5 L552.8,244.1 Z"/>
<path class="e" d="M1672.1,189.5 L1528.6,245.8"/>
<path class="a" d="M1526.9,241.5 L1516.2,250.7 L1530.3,250.2 Z"/>
<path class="e" d="M1743.6,193.4 L1805.9,240.6"/>
<path class="a" d="M1803.1,244.3 L1816.5,248.7 L1808.7,236.9 Z"/>
<path class="e" d="M1706.7,195.8C1705.3,208.7 1704.4,221.7 1702.4,234.6C1700.2,248.8 1701.1,264.5 1694.0,277.0C1689.0,285.8 1677.9,289.7 1668.6,293.8C1652.3,301.0 1635.0,305.9 1617.8,310.7C1589.7,318.6 1561.4,325.3 1533.0,332.0C1503.3,339.1 1473.5,345.4 1443.7,352.1"/>
<path class="a" d="M1442.7,347.5 L1430.7,355.0 L1444.7,356.7 Z"/>
<path class="e" d="M1715.0,196.0C1715.0,215.9 1717.3,236.0 1715.0,255.8C1713.0,273.1 1710.6,291.1 1702.4,306.5C1696.4,317.7 1683.7,323.7 1674.4,332.4"/>
<path class="a" d="M1671.2,328.9 L1664.6,341.4 L1677.5,335.8 Z"/>
<path class="e" d="M1723.6,195.8C1730.6,213.0 1736.2,230.8 1744.7,247.3C1753.1,263.6 1764.0,278.6 1774.3,293.8C1782.8,306.3 1792.2,318.1 1801.1,330.3"/>
<path class="a" d="M1797.4,333.1 L1809.0,341.0 L1804.9,327.5 Z"/>
<path class="e" d="M1732.1,195.1C1741.9,212.5 1750.5,230.7 1761.6,247.3C1768.9,258.1 1776.4,269.4 1787.0,277.0C1806.5,290.9 1828.2,301.8 1850.5,310.7C1877.8,321.6 1906.6,328.4 1935.0,336.0C1956.5,341.8 1978.3,345.9 2000.0,350.8"/>
<path class="a" d="M1998.9,355.4 L2013.0,353.8 L2001.0,346.3 Z"/>
<path class="e" d="M1859.8,185.1C1819.8,192.3 1780.5,204.1 1740.0,206.7C1660.2,211.9 1580.0,208.1 1500.0,208.5C1433.3,208.8 1366.7,208.8 1300.0,209.0C1200.0,209.3 1100.0,209.0 1000.0,210.0C933.3,210.7 866.7,212.0 800.0,214.0C766.6,215.0 733.3,216.7 700.0,219.0C679.9,220.4 659.7,221.0 640.0,225.0C612.5,230.6 586.1,240.1 559.1,247.7"/>
<path class="a" d="M557.8,243.2 L546.2,251.3 L560.3,252.2 Z"/>
<path class="e" d="M1858.1,184.0C1818.7,192.0 1780.1,205.2 1740.0,208.2C1660.2,214.2 1580.0,210.3 1500.0,211.0C1433.3,211.6 1366.7,211.5 1300.0,212.0C1200.0,212.8 1100.0,212.9 1000.0,215.0C933.3,216.4 866.6,218.2 800.0,222.5C773.2,224.2 746.5,228.2 720.0,233.0C698.9,236.8 678.3,243.2 657.5,248.3"/>
<path class="a" d="M656.4,243.7 L644.6,251.4 L658.6,252.8 Z"/>
<path class="e" d="M1861.6,186.1C1821.0,193.0 1780.4,199.0 1740.0,206.7C1670.5,220.0 1601.3,235.0 1532.0,249.2"/>
<path class="a" d="M1531.1,244.6 L1518.9,251.8 L1532.9,253.7 Z"/>
<path class="e" d="M1863.5,187.2C1822.3,194.0 1780.9,199.7 1740.0,207.8C1696.1,216.5 1652.8,228.2 1609.0,237.5C1598.9,239.6 1588.4,239.3 1578.5,242.0C1573.9,243.2 1569.1,245.4 1566.0,249.0C1562.9,252.5 1562.3,257.5 1561.0,262.0C1559.6,266.6 1559.6,271.5 1558.0,276.0C1556.3,280.8 1555.0,286.1 1551.4,289.6C1539.9,300.7 1527.5,311.3 1513.4,319.0C1500.0,326.3 1484.4,328.8 1470.0,334.0C1459.6,337.8 1449.2,341.9 1438.8,345.8"/>
<path class="a" d="M1437.2,341.4 L1426.4,350.5 L1440.5,350.2 Z"/>
<path class="e" d="M1893.1,195.1 L1865.3,234.7"/>
<path class="a" d="M1861.5,232.1 L1857.7,245.6 L1869.1,237.4 Z"/>
<path class="e" d="M1935.8,193.4 L1991.7,240.6"/>
<path class="a" d="M1988.6,244.2 L2001.8,249.2 L1994.7,237.1 Z"/>
<path class="e" d="M1949.9,189.4 L2090.2,245.9"/>
<path class="a" d="M2088.5,250.2 L2102.6,250.8 L2092.0,241.5 Z"/>
<path class="e" d="M1914.0,195.9C1915.3,205.1 1917.5,214.3 1918.0,223.6C1918.5,233.4 1918.5,243.3 1917.0,253.0C1915.5,262.6 1913.6,272.5 1909.0,281.0C1906.3,286.0 1901.6,290.8 1896.0,292.0C1852.5,301.1 1808.0,304.9 1764.0,311.4C1709.3,319.4 1654.7,327.7 1600.0,335.5C1548.6,342.8 1497.2,349.5 1445.8,356.5"/>
<path class="a" d="M1445.2,351.9 L1432.6,358.3 L1446.4,361.1 Z"/>
<path class="e" d="M1920.4,195.6C1922.6,204.9 1925.3,214.1 1926.8,223.6C1928.3,233.3 1929.8,243.2 1929.4,253.0C1929.0,263.3 1927.9,273.8 1924.3,283.4C1922.6,287.9 1918.7,292.3 1914.0,293.6C1876.5,303.6 1837.7,307.5 1800.0,316.7C1768.6,324.4 1737.9,335.1 1706.9,344.2"/>
<path class="a" d="M1705.6,339.8 L1694.1,348.0 L1708.2,348.7 Z"/>
<path class="e" d="M1926.7,194.9C1931.8,204.5 1938.5,213.3 1942.0,223.6C1946.3,236.3 1949.8,249.6 1949.8,263.0C1949.8,276.8 1947.8,291.2 1942.0,303.8C1938.0,312.5 1929.6,318.6 1921.8,324.0C1913.7,329.6 1904.0,332.5 1895.0,336.5C1890.1,338.7 1885.1,340.4 1880.2,342.4"/>
<path class="a" d="M1878.4,338.1 L1867.8,347.3 L1881.9,346.7 Z"/>
<path class="e" d="M1968.3,171.0C2001.9,173.3 2035.6,174.1 2069.0,177.8C2094.8,180.6 2120.6,184.0 2145.7,190.5C2163.4,195.1 2180.9,201.6 2196.6,211.0C2206.8,217.1 2215.2,226.2 2222.0,236.0C2227.3,243.6 2230.0,252.9 2232.0,262.0C2234.0,271.1 2235.3,280.7 2234.0,290.0C2232.9,297.8 2230.6,306.4 2225.0,312.0C2214.9,322.1 2202.4,330.2 2189.0,335.0C2165.5,343.4 2140.3,345.8 2115.9,351.2"/>
<path class="a" d="M2114.9,346.6 L2102.9,354.0 L2116.9,355.7 Z"/>
<path class="e" d="M1966.5,177.9C2000.7,182.1 2035.0,185.2 2069.0,190.5C2094.8,194.5 2120.6,198.8 2145.7,205.8C2163.3,210.7 2181.9,215.2 2196.6,226.0C2208.4,234.7 2216.6,248.2 2222.0,261.8C2226.7,273.7 2226.0,287.2 2226.0,300.0C2226.0,312.4 2227.2,325.8 2222.0,337.0C2214.4,353.3 2204.3,370.2 2189.0,379.6C2156.5,399.5 2119.6,411.4 2083.0,422.0C2041.6,434.0 1998.7,440.8 1956.0,447.0C1920.9,452.1 1885.4,453.4 1850.0,456.0C1836.5,457.0 1823.0,457.1 1809.4,457.6"/>
<path class="a" d="M1809.3,452.9 L1796.1,458.1 L1809.6,462.3 Z"/>
<path class="e" d="M1423.7,281.8 L1124.1,344.8"/>
<path class="a" d="M1123.1,340.2 L1111.0,347.5 L1125.0,349.3 Z"/>
<path class="e" d="M1421.2,280.2 L837.4,351.2"/>
<path class="a" d="M836.9,346.6 L824.2,352.8 L838.0,355.8 Z"/>
<path class="e" d="M1440.0,288.0 L1230.4,344.5"/>
<path class="a" d="M1229.2,339.9 L1217.5,347.9 L1231.6,349.0 Z"/>
<path class="e" d="M1452.9,290.6 L1327.8,342.9"/>
<path class="a" d="M1326.0,338.6 L1315.5,348.1 L1329.6,347.2 Z"/>
<path class="e" d="M1462.0,291.5 L1419.1,333.1"/>
<path class="a" d="M1415.8,329.8 L1409.5,342.4 L1422.3,336.5 Z"/>
<path class="e" d="M1504.6,288.7 L1592.4,336.8"/>
<path class="a" d="M1590.1,340.9 L1604.0,343.2 L1594.6,332.7 Z"/>
<path class="e" d="M1522.1,282.7 L1761.9,349.0"/>
<path class="a" d="M1760.6,353.5 L1774.7,352.6 L1763.1,344.6 Z"/>
<path class="e" d="M1526.2,280.3 L1997.1,355.1"/>
<path class="a" d="M1996.4,359.7 L2010.3,357.2 L1997.8,350.5 Z"/>
<path class="e" d="M1169.8,291.9 L1178.3,327.3"/>
<path class="a" d="M1173.7,328.4 L1181.4,340.2 L1182.8,326.2 Z"/>
<path class="e" d="M1305.4,291.9 L1297.2,327.3"/>
<path class="a" d="M1292.6,326.2 L1294.1,340.3 L1301.7,328.4 Z"/>
<path class="e" d="M1600.3,286.3 L1439.8,346.6"/>
<path class="a" d="M1438.1,342.2 L1427.3,351.3 L1441.4,351.0 Z"/>
<path class="e" d="M1802.3,277.2 L1444.9,354.0"/>
<path class="a" d="M1443.9,349.5 L1431.8,356.8 L1445.8,358.6 Z"/>
</g>
</svg>
</body></html>
